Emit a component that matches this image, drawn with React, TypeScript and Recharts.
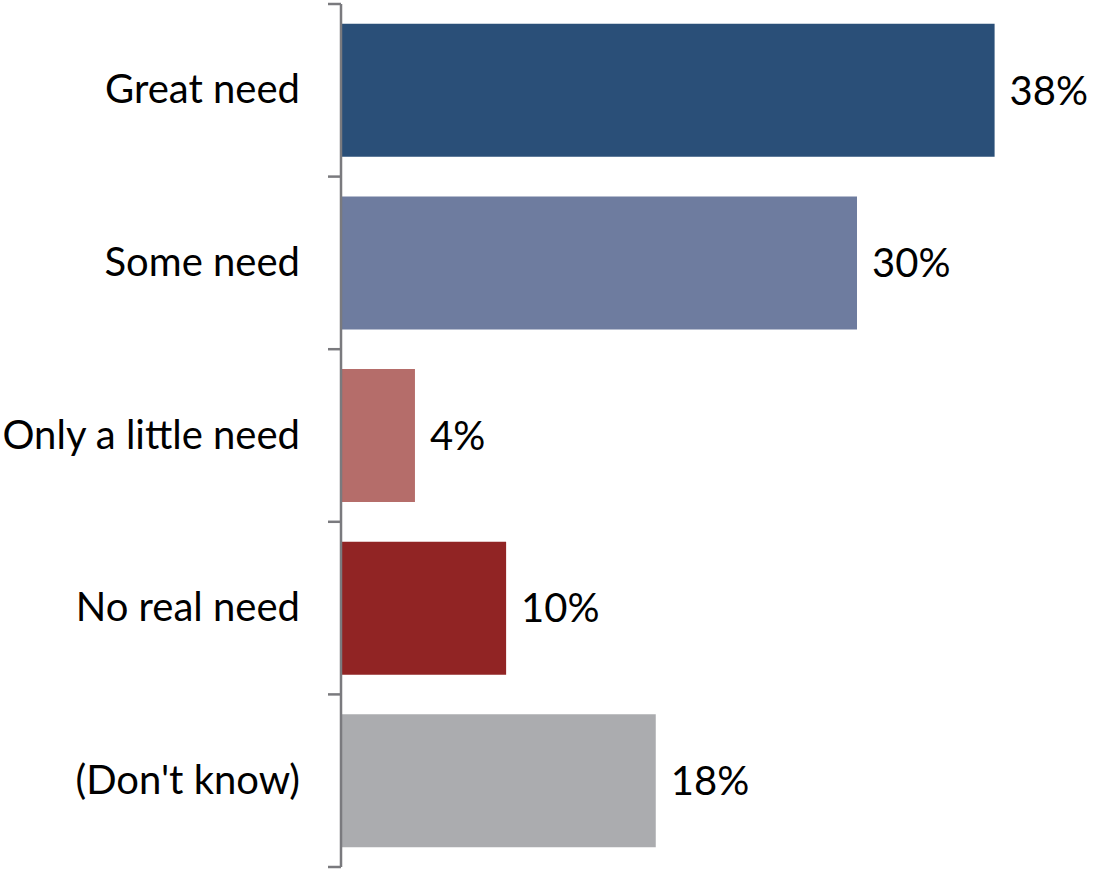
import { BarChart, Bar, XAxis, YAxis, Cell, LabelList } from 'recharts'

const categories = ['Great need', 'Some need', 'Only a little need', 'No real need', "(Don't know)"]
const values = [38, 30, 4.3, 9.6, 18.3]
const colors = ['#2A4F78', '#6E7C9F', '#B56D6A', '#912424', '#ABACAF']

const data = categories.map((name, i) => ({ name, value: values[i] }))

const FONT = 'Lato, "Noto Sans", sans-serif'
const AXIS_COLOR = '#7A7A7E'
const HALF_BAND = 863 / categories.length / 2

// tick x arrives 8px left of the axis line (tickSize 6 + margin 2)
const CategoryTick = ({ x, y, payload, index }: any) => {
  const ax = x + 8
  return (
    <g>
      <text x={ax - 41} y={y} dy={13} textAnchor="end" fontSize={40} fill="#000" fontFamily={FONT}>
        {payload.value}
      </text>
      <line x1={ax - 13} x2={ax} y1={y - HALF_BAND} y2={y - HALF_BAND} stroke={AXIS_COLOR} strokeWidth={2.5} />
      {index === categories.length - 1 && (
        <line x1={ax - 13} x2={ax} y1={y + HALF_BAND} y2={y + HALF_BAND} stroke={AXIS_COLOR} strokeWidth={2.5} />
      )}
    </g>
  )
}

export default function App() {
  return (
    <div style={{ position: 'absolute', left: 0, top: 0, background: '#fff' }}>
      <BarChart
        width={1094}
        height={872}
        data={data}
        layout="vertical"
        margin={{ top: 4, right: 65, left: 0, bottom: 5 }}
        barCategoryGap="11.5%"
      >
        <XAxis type="number" domain={[0, 40]} hide />
        <YAxis
          type="category"
          dataKey="name"
          width={341}
          axisLine={{ stroke: AXIS_COLOR, strokeWidth: 2.5 }}
          tickLine={false}
          tick={<CategoryTick />}
          interval={0}
        />
        <Bar dataKey="value" isAnimationActive={false}>
          {data.map((d, i) => (
            <Cell key={d.name} fill={colors[i]} />
          ))}
          <LabelList
            dataKey="value"
            position="right"
            offset={15}
            formatter={(v: any) => `${Math.round(v)}%`}
            style={{ fontSize: 40, fill: '#000', fontFamily: FONT }}
          />
        </Bar>
      </BarChart>
    </div>
  )
}
